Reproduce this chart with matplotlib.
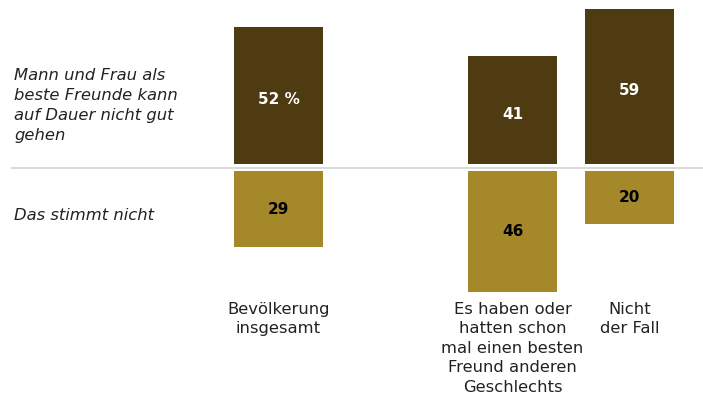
import matplotlib.pyplot as plt

# data
categories = ["Bevölkerung\ninsgesamt",
              "Es haben oder\nhatten schon\nmal einen besten\nFreund anderen\nGeschlechts",
              "Nicht\nder Fall"]
slots = [0, 2, 3]
agree = [52, 41, 59]
disagree = [29, 46, 20]
row_labels = ["Mann und Frau als\nbeste Freunde kann\nauf Dauer nicht gut\ngehen", "Das stimmt nicht"]

dark = '#4f3b12'
gold = '#a5882a'
gap = 2.7      # space between upper and lower bars
width = 0.76

fig = plt.figure(figsize=(7.03, 4.01), dpi=100)
ax = fig.add_axes([0, 0, 1, 1])
ax.set_xlim(-2.38, 3.628)
ax.set_ylim(-90.1, 62.4)
ax.axis('off')

ax.bar(slots, agree, width=width, color=dark)
ax.bar(slots, [-v for v in disagree], width=width, bottom=-gap, color=gold)
ax.axhline(-1.4, xmin=0.017, xmax=1, color='#d4d4d4', lw=1.2)

for i, (x, a, d) in enumerate(zip(slots, agree, disagree)):
    txt = f"{a} %" if i == 0 else str(a)
    ax.text(x, a / 2 - 1.5, txt, ha='center', va='center', color='white',
            fontsize=11, fontweight='bold')
    ax.text(x, -gap - d / 2, str(d), ha='center', va='center', color='black',
            fontsize=11, fontweight='bold')
    ax.text(x, -52.3, categories[i], ha='center', va='top', fontsize=11.8,
            color='#222222', linespacing=1.38)

# row descriptions on the left
ax.text(0.02, 0.83, row_labels[0], transform=ax.transAxes, ha='left', va='top',
        fontsize=11.8, style='italic', color='#222222', linespacing=1.42)
ax.text(0.02, 0.463, row_labels[1], transform=ax.transAxes, ha='left', va='center',
        fontsize=11.8, style='italic', color='#222222')

fig.savefig('out.png', dpi=100)
